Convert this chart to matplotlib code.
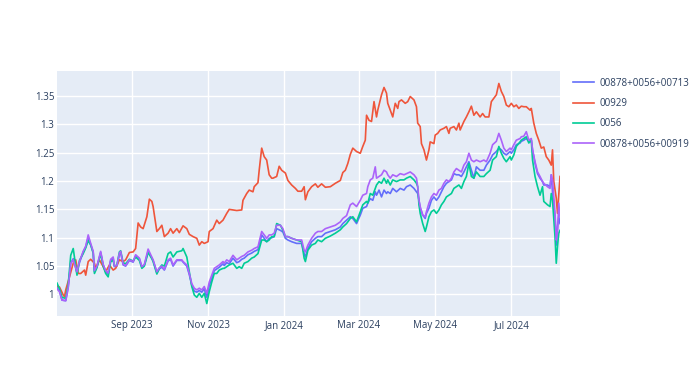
import matplotlib
matplotlib.use("Agg")
import matplotlib.pyplot as plt
import matplotlib.dates as mdates
import pandas as pd

# 00929 series
red_dates = [
    "2023-07-03", "2023-07-05", "2023-07-08", "2023-07-09", "2023-07-10", "2023-07-13",
    "2023-07-16", "2023-07-18", "2023-07-20", "2023-07-22", "2023-07-25", "2023-07-26",
    "2023-07-28", "2023-07-30", "2023-08-02", "2023-08-03", "2023-08-06", "2023-08-09",
    "2023-08-11", "2023-08-14", "2023-08-17", "2023-08-19", "2023-08-22", "2023-08-25",
    "2023-08-27", "2023-08-30", "2023-09-02", "2023-09-04", "2023-09-06", "2023-09-08",
    "2023-09-10", "2023-09-13", "2023-09-15", "2023-09-17", "2023-09-18", "2023-09-21",
    "2023-09-23", "2023-09-25", "2023-09-27", "2023-09-30", "2023-10-02", "2023-10-04",
    "2023-10-07", "2023-10-09", "2023-10-12", "2023-10-15", "2023-10-17", "2023-10-20",
    "2023-10-23", "2023-10-25", "2023-10-27", "2023-10-29", "2023-11-01", "2023-11-02",
    "2023-11-05", "2023-11-08", "2023-11-10", "2023-11-13", "2023-11-16", "2023-11-18",
    "2023-11-21", "2023-11-24", "2023-11-28", "2023-11-29", "2023-12-02", "2023-12-04",
    "2023-12-07", "2023-12-08", "2023-12-11", "2023-12-12", "2023-12-14", "2023-12-16",
    "2023-12-18", "2023-12-20", "2023-12-22", "2023-12-23", "2023-12-26", "2023-12-28",
    "2023-12-30", "2024-01-02", "2024-01-04", "2024-01-07", "2024-01-10", "2024-01-12",
    "2024-01-15", "2024-01-17", "2024-01-18", "2024-01-20", "2024-01-23", "2024-01-26",
    "2024-01-28", "2024-01-31", "2024-02-03", "2024-02-07", "2024-02-11", "2024-02-15",
    "2024-02-17", "2024-02-19", "2024-02-21", "2024-02-23", "2024-02-25", "2024-02-28",
    "2024-03-02", "2024-03-04", "2024-03-06", "2024-03-07", "2024-03-09", "2024-03-11",
    "2024-03-13", "2024-03-15", "2024-03-16", "2024-03-19", "2024-03-21", "2024-03-23",
    "2024-03-24", "2024-03-26", "2024-03-28", "2024-03-30", "2024-04-01", "2024-04-02",
    "2024-04-04", "2024-04-07", "2024-04-09", "2024-04-11", "2024-04-14", "2024-04-16",
    "2024-04-17", "2024-04-19", "2024-04-20", "2024-04-22", "2024-04-24", "2024-04-26",
    "2024-04-27", "2024-04-30", "2024-05-01", "2024-05-03", "2024-05-05", "2024-05-08",
    "2024-05-10", "2024-05-12", "2024-05-13", "2024-05-16", "2024-05-18", "2024-05-20",
    "2024-05-21", "2024-05-24", "2024-05-26", "2024-05-28", "2024-05-30", "2024-06-01",
    "2024-06-03", "2024-06-06", "2024-06-08", "2024-06-10", "2024-06-13", "2024-06-15",
    "2024-06-17", "2024-06-19", "2024-06-21", "2024-06-23", "2024-06-25", "2024-06-27",
    "2024-06-29", "2024-07-01", "2024-07-03", "2024-07-05", "2024-07-07", "2024-07-09",
    "2024-07-11", "2024-07-13", "2024-07-16", "2024-07-17", "2024-07-19", "2024-07-21",
    "2024-07-23", "2024-07-25", "2024-07-27", "2024-07-29", "2024-07-31", "2024-08-02",
    "2024-08-03", "2024-08-04", "2024-08-06", "2024-08-07", "2024-08-09",
]
s00929 = [
    1.015, 1.013, 0.999, 0.996, 1.008, 1.031,
    1.055, 1.061, 1.037, 1.037, 1.043, 1.034,
    1.058, 1.062, 1.055, 1.046, 1.061, 1.049,
    1.040, 1.052, 1.043, 1.046, 1.061, 1.058,
    1.061, 1.074, 1.075, 1.081, 1.126, 1.119,
    1.116, 1.137, 1.168, 1.164, 1.155, 1.111,
    1.116, 1.122, 1.102, 1.108, 1.116, 1.108,
    1.116, 1.109, 1.121, 1.116, 1.106, 1.102,
    1.099, 1.087, 1.093, 1.090, 1.093, 1.111,
    1.116, 1.131, 1.125, 1.131, 1.143, 1.150,
    1.149, 1.148, 1.149, 1.166, 1.178, 1.184,
    1.181, 1.190, 1.197, 1.219, 1.258, 1.243,
    1.237, 1.211, 1.205, 1.205, 1.208, 1.226,
    1.219, 1.214, 1.201, 1.193, 1.187, 1.182,
    1.182, 1.190, 1.167, 1.181, 1.190, 1.195,
    1.189, 1.195, 1.189, 1.190, 1.196, 1.201,
    1.215, 1.219, 1.231, 1.247, 1.258, 1.252,
    1.249, 1.261, 1.272, 1.316, 1.307, 1.305,
    1.340, 1.313, 1.325, 1.352, 1.365, 1.355,
    1.337, 1.325, 1.313, 1.337, 1.328, 1.340,
    1.343, 1.337, 1.340, 1.349, 1.343, 1.331,
    1.302, 1.296, 1.266, 1.255, 1.237, 1.255,
    1.269, 1.266, 1.281, 1.284, 1.290, 1.293,
    1.296, 1.284, 1.293, 1.296, 1.290, 1.302,
    1.290, 1.305, 1.313, 1.322, 1.332, 1.316,
    1.322, 1.313, 1.319, 1.313, 1.313, 1.340,
    1.346, 1.352, 1.372, 1.358, 1.349, 1.334,
    1.331, 1.337, 1.331, 1.334, 1.328, 1.332,
    1.331, 1.331, 1.325, 1.328, 1.302, 1.284,
    1.272, 1.258, 1.260, 1.243, 1.237, 1.228,
    1.255, 1.200, 1.170, 1.143, 1.208,
]

# the three mixed / 0056 series share one date list
mix_dates = [
    "2023-07-03", "2023-07-05", "2023-07-07", "2023-07-10", "2023-07-12", "2023-07-14",
    "2023-07-16", "2023-07-19", "2023-07-21", "2023-07-24", "2023-07-26", "2023-07-28",
    "2023-07-30", "2023-08-01", "2023-08-02", "2023-08-04", "2023-08-07", "2023-08-09",
    "2023-08-11", "2023-08-13", "2023-08-15", "2023-08-17", "2023-08-18", "2023-08-20",
    "2023-08-22", "2023-08-23", "2023-08-25", "2023-08-27", "2023-08-30", "2023-09-02",
    "2023-09-04", "2023-09-07", "2023-09-09", "2023-09-11", "2023-09-14", "2023-09-17",
    "2023-09-18", "2023-09-21", "2023-09-23", "2023-09-25", "2023-09-27", "2023-09-30",
    "2023-10-02", "2023-10-04", "2023-10-07", "2023-10-11", "2023-10-12", "2023-10-15",
    "2023-10-17", "2023-10-19", "2023-10-21", "2023-10-23", "2023-10-25", "2023-10-27",
    "2023-10-29", "2023-10-30", "2023-10-31", "2023-11-02", "2023-11-04", "2023-11-06",
    "2023-11-08", "2023-11-10", "2023-11-13", "2023-11-14", "2023-11-16", "2023-11-18",
    "2023-11-21", "2023-11-24", "2023-11-26", "2023-11-28", "2023-11-30", "2023-12-03",
    "2023-12-06", "2023-12-08", "2023-12-11", "2023-12-14", "2023-12-16", "2023-12-18",
    "2023-12-20", "2023-12-22", "2023-12-24", "2023-12-26", "2023-12-29", "2023-12-31",
    "2024-01-02", "2024-01-04", "2024-01-07", "2024-01-11", "2024-01-15", "2024-01-17",
    "2024-01-18", "2024-01-20", "2024-01-23", "2024-01-26", "2024-01-28", "2024-01-31",
    "2024-02-03", "2024-02-07", "2024-02-11", "2024-02-15", "2024-02-17", "2024-02-20",
    "2024-02-23", "2024-02-25", "2024-02-28", "2024-03-02", "2024-03-04", "2024-03-07",
    "2024-03-08", "2024-03-10", "2024-03-12", "2024-03-14", "2024-03-15", "2024-03-17",
    "2024-03-19", "2024-03-21", "2024-03-23", "2024-03-24", "2024-03-26", "2024-03-28",
    "2024-03-31", "2024-04-03", "2024-04-06", "2024-04-08", "2024-04-11", "2024-04-14",
    "2024-04-16", "2024-04-17", "2024-04-18", "2024-04-19", "2024-04-21", "2024-04-23",
    "2024-04-24", "2024-04-26", "2024-04-28", "2024-04-30", "2024-05-02", "2024-05-04",
    "2024-05-06", "2024-05-08", "2024-05-10", "2024-05-12", "2024-05-14", "2024-05-16",
    "2024-05-18", "2024-05-20", "2024-05-22", "2024-05-24", "2024-05-26", "2024-05-28",
    "2024-05-30", "2024-06-01", "2024-06-03", "2024-06-06", "2024-06-09", "2024-06-11",
    "2024-06-14", "2024-06-16", "2024-06-19", "2024-06-21", "2024-06-23", "2024-06-25",
    "2024-06-27", "2024-06-30", "2024-07-01", "2024-07-03", "2024-07-05", "2024-07-08",
    "2024-07-09", "2024-07-11", "2024-07-13", "2024-07-15", "2024-07-17", "2024-07-18",
    "2024-07-20", "2024-07-22", "2024-07-24", "2024-07-26", "2024-07-27", "2024-07-30",
    "2024-08-01", "2024-08-02", "2024-08-03", "2024-08-05", "2024-08-06", "2024-08-07",
    "2024-08-08", "2024-08-09",
]
s_mix_00713 = [
    1.012, 1.006, 0.990, 0.989, 1.014, 1.055,
    1.063, 1.038, 1.056, 1.075, 1.084, 1.100,
    1.088, 1.074, 1.040, 1.049, 1.074, 1.052,
    1.040, 1.036, 1.060, 1.064, 1.049, 1.050,
    1.071, 1.074, 1.052, 1.050, 1.060, 1.057,
    1.068, 1.063, 1.048, 1.052, 1.076, 1.064,
    1.060, 1.038, 1.045, 1.048, 1.043, 1.059,
    1.062, 1.050, 1.060, 1.060, 1.057, 1.050,
    1.035, 1.016, 1.006, 1.004, 1.007, 1.004,
    1.010, 1.002, 0.995, 1.016, 1.028, 1.042,
    1.045, 1.048, 1.054, 1.051, 1.056, 1.054,
    1.064, 1.056, 1.058, 1.062, 1.064, 1.070,
    1.073, 1.076, 1.079, 1.105, 1.099, 1.093,
    1.099, 1.100, 1.102, 1.116, 1.113, 1.110,
    1.099, 1.096, 1.093, 1.090, 1.090, 1.072,
    1.066, 1.081, 1.093, 1.099, 1.102, 1.102,
    1.108, 1.111, 1.114, 1.119, 1.125, 1.131,
    1.137, 1.134, 1.125, 1.140, 1.152, 1.155,
    1.161, 1.169, 1.166, 1.181, 1.175, 1.184,
    1.172, 1.184, 1.178, 1.181, 1.178, 1.187,
    1.181, 1.187, 1.184, 1.190, 1.193, 1.187,
    1.181, 1.178, 1.166, 1.152, 1.140, 1.134,
    1.143, 1.152, 1.166, 1.172, 1.166, 1.172,
    1.181, 1.190, 1.196, 1.199, 1.202, 1.213,
    1.211, 1.211, 1.208, 1.216, 1.225, 1.234,
    1.219, 1.205, 1.225, 1.219, 1.219, 1.228,
    1.237, 1.246, 1.252, 1.258, 1.255, 1.249,
    1.246, 1.252, 1.249, 1.255, 1.264, 1.267,
    1.270, 1.272, 1.275, 1.270, 1.272, 1.255,
    1.231, 1.213, 1.205, 1.199, 1.193, 1.193,
    1.190, 1.211, 1.181, 1.137, 1.087, 1.120,
    1.137, 1.125,
]
s0056 = [
    1.020, 1.010, 0.995, 0.993, 1.018, 1.069,
    1.081, 1.034, 1.060, 1.072, 1.082, 1.095,
    1.087, 1.073, 1.037, 1.047, 1.072, 1.050,
    1.037, 1.031, 1.058, 1.060, 1.050, 1.052,
    1.075, 1.077, 1.056, 1.054, 1.062, 1.059,
    1.066, 1.060, 1.046, 1.050, 1.074, 1.063,
    1.058, 1.036, 1.046, 1.052, 1.050, 1.072,
    1.075, 1.066, 1.075, 1.077, 1.081, 1.066,
    1.040, 1.014, 0.999, 0.995, 1.002, 0.995,
    1.002, 0.993, 0.984, 1.005, 1.022, 1.037,
    1.037, 1.043, 1.046, 1.046, 1.049, 1.052,
    1.055, 1.046, 1.049, 1.046, 1.055, 1.058,
    1.064, 1.066, 1.072, 1.096, 1.096, 1.093,
    1.096, 1.102, 1.102, 1.125, 1.122, 1.113,
    1.102, 1.102, 1.099, 1.096, 1.093, 1.064,
    1.058, 1.078, 1.087, 1.090, 1.096, 1.093,
    1.099, 1.103, 1.108, 1.114, 1.119, 1.125,
    1.134, 1.137, 1.128, 1.146, 1.158, 1.164,
    1.161, 1.178, 1.175, 1.187, 1.193, 1.199,
    1.196, 1.205, 1.196, 1.202, 1.193, 1.202,
    1.199, 1.202, 1.202, 1.205, 1.208, 1.202,
    1.196, 1.190, 1.158, 1.143, 1.125, 1.111,
    1.119, 1.137, 1.146, 1.149, 1.143, 1.149,
    1.158, 1.164, 1.172, 1.175, 1.178, 1.187,
    1.190, 1.193, 1.187, 1.199, 1.208, 1.231,
    1.208, 1.205, 1.216, 1.208, 1.208, 1.213,
    1.219, 1.237, 1.243, 1.261, 1.249, 1.240,
    1.234, 1.243, 1.237, 1.246, 1.261, 1.269,
    1.272, 1.275, 1.278, 1.267, 1.272, 1.237,
    1.208, 1.190, 1.175, 1.190, 1.164, 1.158,
    1.155, 1.178, 1.166, 1.102, 1.055, 1.085,
    1.108, 1.113,
]
s_mix_00919 = [
    1.010, 1.005, 0.990, 0.989, 1.012, 1.055,
    1.061, 1.040, 1.058, 1.076, 1.085, 1.105,
    1.090, 1.076, 1.042, 1.050, 1.076, 1.053,
    1.042, 1.038, 1.062, 1.066, 1.050, 1.051,
    1.073, 1.076, 1.053, 1.051, 1.061, 1.058,
    1.070, 1.064, 1.049, 1.053, 1.080, 1.066,
    1.061, 1.040, 1.047, 1.050, 1.044, 1.061,
    1.064, 1.052, 1.061, 1.061, 1.058, 1.052,
    1.037, 1.019, 1.011, 1.008, 1.011, 1.008,
    1.014, 1.008, 1.002, 1.022, 1.034, 1.046,
    1.049, 1.052, 1.058, 1.055, 1.061, 1.058,
    1.069, 1.061, 1.064, 1.067, 1.069, 1.075,
    1.078, 1.081, 1.084, 1.111, 1.105, 1.099,
    1.105, 1.105, 1.108, 1.122, 1.122, 1.116,
    1.102, 1.102, 1.099, 1.096, 1.096, 1.078,
    1.075, 1.087, 1.099, 1.108, 1.111, 1.111,
    1.116, 1.119, 1.122, 1.128, 1.134, 1.139,
    1.158, 1.161, 1.155, 1.166, 1.175, 1.178,
    1.190, 1.202, 1.205, 1.225, 1.205, 1.208,
    1.211, 1.219, 1.216, 1.211, 1.205, 1.211,
    1.208, 1.213, 1.211, 1.213, 1.216, 1.211,
    1.205, 1.190, 1.166, 1.155, 1.140, 1.137,
    1.146, 1.161, 1.172, 1.178, 1.175, 1.184,
    1.187, 1.196, 1.202, 1.199, 1.205, 1.216,
    1.222, 1.219, 1.216, 1.228, 1.234, 1.249,
    1.237, 1.234, 1.237, 1.234, 1.237, 1.234,
    1.249, 1.264, 1.270, 1.284, 1.272, 1.258,
    1.252, 1.258, 1.255, 1.264, 1.272, 1.275,
    1.278, 1.279, 1.287, 1.272, 1.275, 1.255,
    1.234, 1.216, 1.208, 1.199, 1.196, 1.190,
    1.187, 1.211, 1.202, 1.143, 1.096, 1.108,
    1.161, 1.137,
]

labels = ["00878+0056+00713", "00929", "0056", "00878+0056+00919"]
colors = ["#636EFA", "#EF553B", "#00CC96", "#AB63FA"]

plt.rcParams['font.family'] = ['Open Sans', 'DejaVu Sans']

fig = plt.figure(figsize=(7, 3.73), dpi=100)
axe = fig.add_axes([57 / 700, 57 / 373, 503 / 700, 245 / 373])
axe.set_facecolor("#E5ECF6")

red_x = pd.to_datetime(red_dates)
mix_x = pd.to_datetime(mix_dates)
series = [(mix_x, s_mix_00713), (red_x, s00929), (mix_x, s0056), (mix_x, s_mix_00919)]
for (x, y), lab, col in zip(series, labels, colors):
    axe.plot(x, y, color=col, lw=1.2, label=lab, solid_joinstyle='round')

axe.set_xlim(mix_x[0], mix_x[-1])
axe.set_ylim(0.962, 1.394)
axe.set_yticks([1.0, 1.05, 1.1, 1.15, 1.2, 1.25, 1.3, 1.35])
axe.yaxis.set_major_formatter(matplotlib.ticker.FuncFormatter(lambda v, p: "%g" % round(v, 2)))
axe.xaxis.set_major_locator(mdates.MonthLocator(bymonth=[1, 3, 5, 7, 9, 11]))
axe.xaxis.set_major_formatter(mdates.DateFormatter("%b %Y"))

axe.grid(True, color="white", lw=1)
axe.set_axisbelow(True)
for sp in axe.spines.values():
    sp.set_visible(False)
axe.tick_params(length=0, labelsize=7, colors="#2a3f5f", pad=3)
axe.tick_params(axis="y", pad=2)

axe.legend(loc="upper left", bbox_to_anchor=(568 / 700, 1 - 73 / 373),
           bbox_transform=fig.transFigure, frameon=False, fontsize=7,
           handlelength=2.2, handletextpad=0.55, labelspacing=0.95,
           borderpad=0, labelcolor="#2a3f5f")

fig.savefig("out.png", dpi=100)
